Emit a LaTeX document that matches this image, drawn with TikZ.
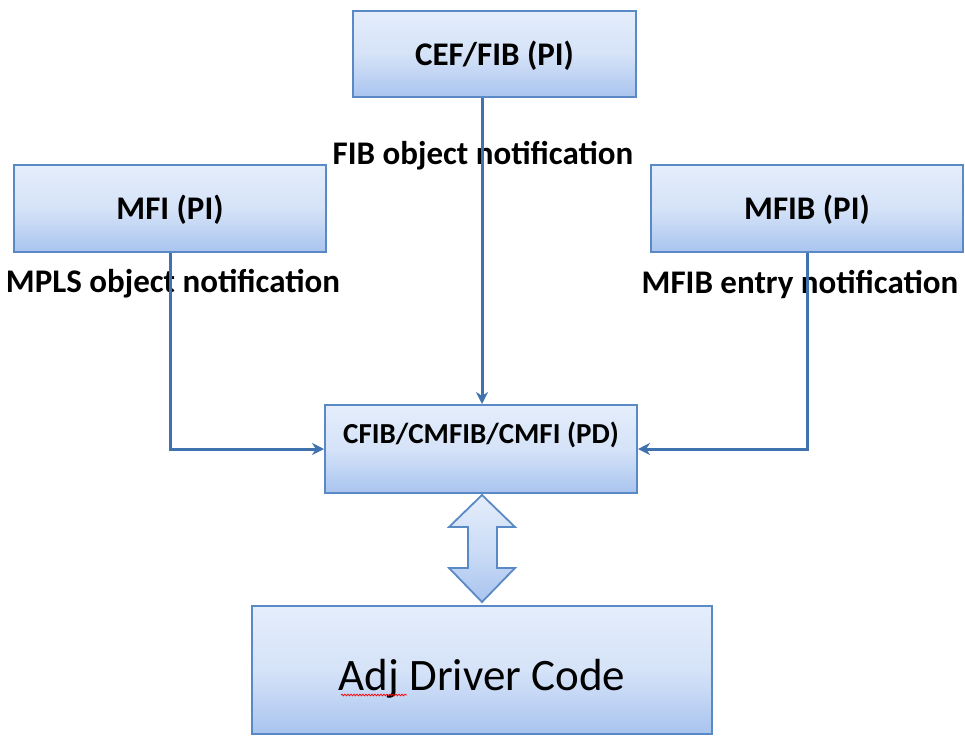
\documentclass[tikz,border=0pt]{standalone}
\usepackage{fontspec}
\setmainfont{Carlito}
\usetikzlibrary{arrows.meta,decorations.pathmorphing}
\definecolor{boxtop}{HTML}{E4EDFB}
\definecolor{boxbot}{HTML}{A9C4EF}
\definecolor{boxedge}{HTML}{5A8AC6}
\definecolor{conn}{HTML}{3F72AF}
\tikzset{
  blk/.style={draw=boxedge, line width=2pt, top color=boxtop, bottom color=boxbot, middle color=boxtop!75!boxbot, inner sep=0pt},
  lbl/.style={font=\fontsize{33}{36}\selectfont\bfseries, text=black, inner sep=0pt},
  cnote/.style={font=\fontsize{33}{36}\selectfont\bfseries, text=black, inner sep=0pt},
  link/.style={draw=conn, line width=3pt, -{Stealth[length=12pt,width=12pt]}}
}
\begin{document}
\begin{tikzpicture}[x=1pt,y=-1pt]
\useasboundingbox (0,0) rectangle (965,736);
% boxes
\node[blk, minimum width=283pt, minimum height=86pt] (cef) at (494.5,54) {};
\node[lbl] at (494.5,56) {CEF/FIB (PI)};
\node[blk, minimum width=312pt, minimum height=87pt] (mfi) at (170,208.5) {};
\node[lbl] at (170,210) {MFI (PI)};
\node[blk, minimum width=312pt, minimum height=87pt] (mfib) at (807,208.5) {};
\node[lbl] at (807,210) {MFIB (PI)};
\node[blk, minimum width=312pt, minimum height=88pt] (pd) at (481,449) {};
\node[font=\fontsize{29}{32}\selectfont\bfseries, inner sep=0pt] at (481,435) {CFIB/CMFIB/CMFI (PD)};
\node[blk, minimum width=460pt, minimum height=128pt] (adj) at (482,670) {};
\node[font=\fontsize{45}{50}\selectfont, inner sep=0pt, anchor=base] (adjt) at (482,690) {Adj Driver Code};
\draw[red, line width=0.7pt, decorate, decoration={snake, amplitude=0.9pt, segment length=3pt}] (341,695) -- (407,695);
% notes
\node[cnote] (n1) at (483,156) {FIB object notification};
\node[cnote] (n2) at (173,284) {MPLS object notification};
\node[cnote] (n3) at (800,284) {MFIB entry notification};
% connectors
\draw[link] (cef.south -| 482,0) -- (pd.north -| 482,0);
\draw[link] (mfi.south) |- (pd.west);
\draw[link] (mfib.south) |- (pd.east);
% double arrow
\draw[boxedge, line width=1.8pt, top color=boxtop, bottom color=boxbot, middle color=boxtop!60!boxbot]
  (482,495) -- (515,527) -- (497,527) -- (497,568) -- (515,568) -- (482,602)
  -- (449,568) -- (468,568) -- (468,527) -- (449,527) -- cycle;
\end{tikzpicture}
\end{document}
